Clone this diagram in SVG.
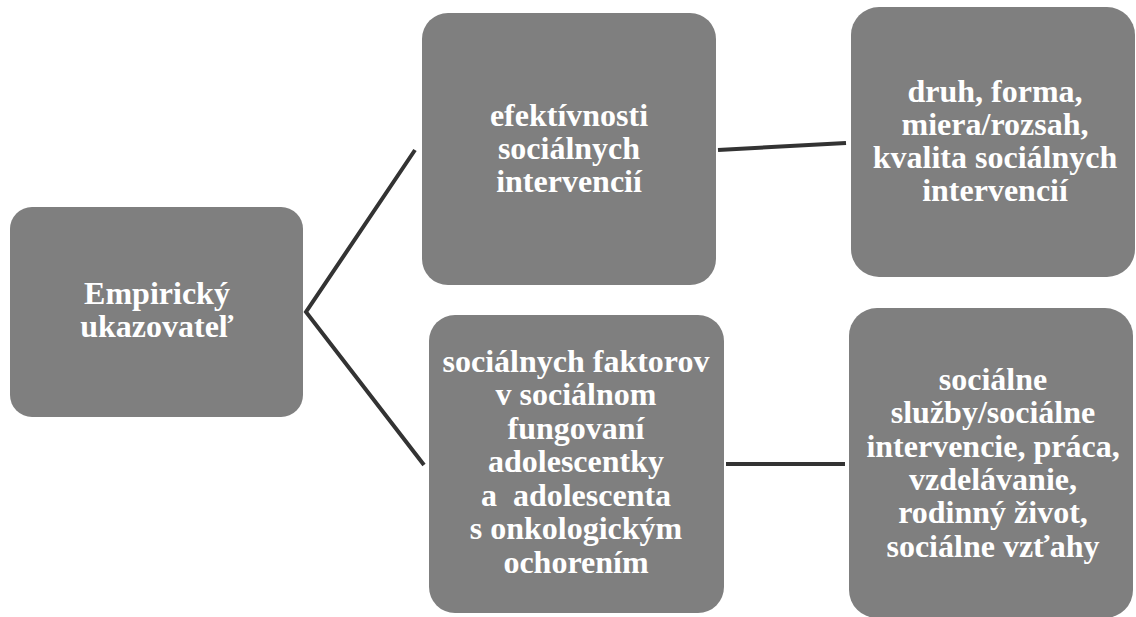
<svg xmlns="http://www.w3.org/2000/svg" width="1136" height="617" viewBox="0 0 1136 617">
<style>
.box{fill:#7f7f7f;}
.t{fill:#ffffff;font-family:'Liberation Serif','Times New Roman',serif;font-weight:bold;font-size:32px;text-anchor:middle;}
.c{stroke:#333333;stroke-width:4;fill:none;stroke-linejoin:miter;}
</style>
<rect width="1136" height="617" fill="#ffffff"/>
<g id="connectors">
<polyline class="c" points="415,150 306,312 424,465"/>
<line class="c" x1="718" y1="150" x2="846" y2="143"/>
<line class="c" x1="726" y1="464" x2="845" y2="464"/>
</g>
<g id="node-empiricky">
<rect class="box" x="10" y="207" width="293" height="210" rx="22"/>
<text class="t" x="157" y="304">Empirický</text>
<text class="t" x="157" y="337">ukazovateľ</text>
</g>
<g id="node-efektivnosti">
<rect class="box" x="422" y="13" width="294" height="272" rx="26"/>
<text class="t" x="569" y="126">efektívnosti</text>
<text class="t" x="569" y="159">sociálnych</text>
<text class="t" x="569" y="192">intervencií</text>
</g>
<g id="node-druh">
<rect class="box" x="851" y="7" width="284" height="270" rx="28"/>
<text class="t" x="995" y="102">druh, forma,</text>
<text class="t" x="995" y="135">miera/rozsah,</text>
<text class="t" x="995" y="168">kvalita sociálnych</text>
<text class="t" x="995" y="201">intervencií</text>
</g>
<g id="node-faktorov">
<rect class="box" x="429" y="315" width="295" height="298" rx="26"/>
<text class="t" x="576" y="372">sociálnych faktorov</text>
<text class="t" x="576" y="405">v sociálnom</text>
<text class="t" x="576" y="439">fungovaní</text>
<text class="t" x="576" y="472">adolescentky</text>
<text class="t" x="576" y="506" xml:space="preserve">a  adolescenta</text>
<text class="t" x="576" y="539">s onkologickým</text>
<text class="t" x="576" y="573">ochorením</text>
</g>
<g id="node-sluzby">
<rect class="box" x="849" y="308" width="284" height="310" rx="28"/>
<text class="t" x="993" y="390">sociálne</text>
<text class="t" x="993" y="423">služby/sociálne</text>
<text class="t" x="993" y="457">intervencie, práca,</text>
<text class="t" x="993" y="490">vzdelávanie,</text>
<text class="t" x="993" y="523">rodinný život,</text>
<text class="t" x="993" y="557">sociálne vzťahy</text>
</g>
</svg>
